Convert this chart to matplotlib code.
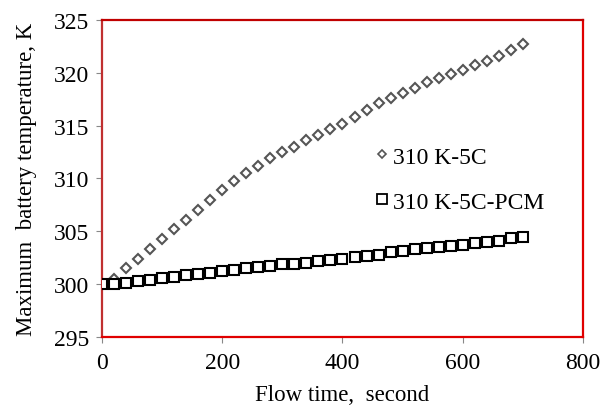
import matplotlib
matplotlib.use("Agg")
import matplotlib.pyplot as plt
from matplotlib.lines import Line2D

# Flow time (s) and maximum battery temperature (K) for both cases
flow_time = [0, 20, 40, 60, 80, 100, 120, 140, 160, 180, 200, 220, 240, 260, 280,
             300, 320, 340, 360, 380, 400, 420, 440, 460, 480, 500, 520, 540, 560,
             580, 600, 620, 640, 660, 680, 700]
temp_5c = [300.0, 300.5, 301.5, 302.4, 303.3, 304.3, 305.2, 306.1, 307.0, 308.0,
           308.9, 309.8, 310.5, 311.2, 311.9, 312.5, 313.0, 313.6, 314.1, 314.7,
           315.2, 315.8, 316.5, 317.1, 317.6, 318.1, 318.6, 319.1, 319.5, 319.9,
           320.3, 320.7, 321.1, 321.6, 322.2, 322.7]
temp_5c_pcm = [300.0, 300.05, 300.15, 300.3, 300.4, 300.55, 300.7, 300.85, 300.95,
               301.1, 301.25, 301.37, 301.5, 301.6, 301.75, 301.9, 301.95, 302.0,
               302.15, 302.28, 302.4, 302.54, 302.7, 302.8, 303.0, 303.15, 303.3,
               303.4, 303.5, 303.6, 303.75, 303.9, 304.0, 304.1, 304.35, 304.5]

series_labels = ["310 K-5C", "310 K-5C-PCM"]
x_ticks = [0, 200, 400, 600, 800]
y_ticks = [295, 300, 305, 310, 315, 320, 325]

plt.rcParams['font.family'] = ['Liberation Serif', 'DejaVu Serif']

fig = plt.figure(figsize=(6.06, 4.10), dpi=100)
ax = fig.add_axes([0.1683, 0.1756, 0.7937, 0.7732])

ax.plot(flow_time, temp_5c, linestyle='none', marker='D', markersize=5.4,
        markerfacecolor='white', markeredgecolor='#555555', markeredgewidth=1.5,
        zorder=3)
ax.plot(flow_time, temp_5c_pcm, linestyle='none', marker='s', markersize=7.8,
        markerfacecolor='white', markeredgecolor='black', markeredgewidth=1.5,
        zorder=4)

ax.set_xlim(0, 800)
ax.set_ylim(295, 325)
ax.set_xticks(x_ticks)
ax.set_yticks(y_ticks)
ax.tick_params(axis='both', direction='out', length=4, width=0.8, color='#888888',
               labelsize=17)
ax.tick_params(axis='x', pad=7)
ax.tick_params(axis='y', pad=5)

for side in ['left', 'right', 'top', 'bottom']:
    ax.spines[side].set_color('#e00000')
    ax.spines[side].set_linewidth(1.6)
ax.spines['top'].set_color('#c00000')
ax.spines['left'].set_color('#c03030')

ax.set_xlabel("Flow time,  second", fontsize=16.5, labelpad=8)
ax.set_ylabel("Maximum  battery temperature, K", fontsize=16.5, labelpad=12)

handles = [
    Line2D([], [], linestyle='none', marker='D', markersize=4.2,
           markerfacecolor='white', markeredgecolor='#555555', markeredgewidth=1.2),
    Line2D([], [], linestyle='none', marker='s', markersize=7.5,
           markerfacecolor='white', markeredgecolor='black', markeredgewidth=1.3),
]
ax.legend(handles, series_labels, loc='upper left', bbox_to_anchor=(0.548, 0.632),
          frameon=False, fontsize=17, handlelength=0.55, handletextpad=0.2,
          labelspacing=1.0, borderaxespad=0)

fig.savefig("out.png", dpi=100)
